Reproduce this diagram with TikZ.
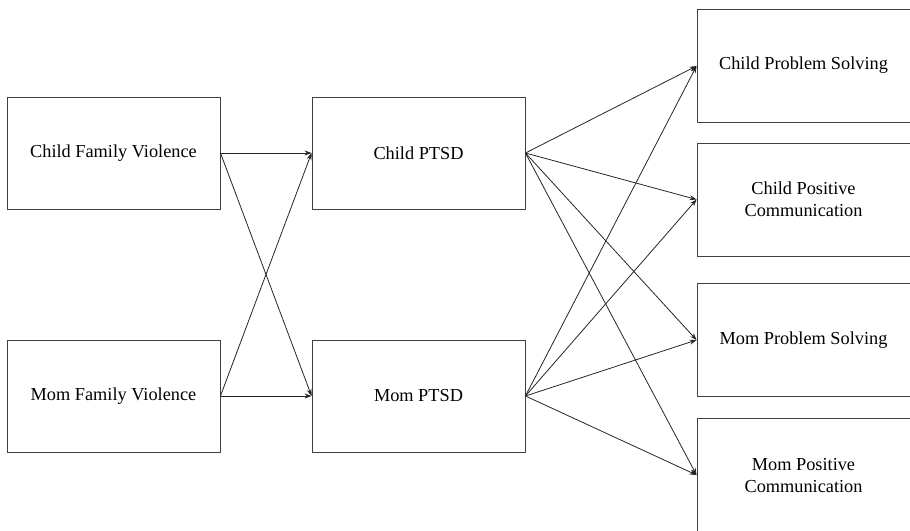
\documentclass[tikz,border=0pt]{standalone}
\usepackage{fontspec}
\setmainfont{Liberation Serif}
\usetikzlibrary{arrows.meta}
\begin{document}
\begin{tikzpicture}[x=1pt,y=-1pt,
  txt/.style={align=center,inner sep=0pt,font=\fontsize{18.3}{22}\selectfont},
  box/.style={txt,draw=black!75,line width=0.9pt,minimum width=213pt,minimum height=112pt},
  rbox/.style={draw=black!75,line width=0.9pt,minimum width=226pt,minimum height=113pt,inner sep=0pt},
  link/.style={draw=black!85,line width=0.8pt,-{Stealth[length=7pt,width=5pt]}}]
\useasboundingbox (0,0) rectangle (910,530);
\clip (0,0) rectangle (910,530);
\node[box] (cfv) at (113.5,153) {Child Family Violence};
\node[box] (mfv) at (113.5,396) {Mom Family Violence};
\node[box] (cpt) at (418.5,153) {Child PTSD};
\node[box] (mpt) at (418.5,396) {Mom PTSD};
\node[rbox] (cps) at (810,66) {};
\node[txt] (cpsl) at (803.5,65) {Child Problem Solving};
\node[rbox] (cpc) at (810,199.5) {};
\node[txt] (cpcl) at (803.5,199.5) {Child Positive\\Communication};
\node[rbox] (mps) at (810,340) {};
\node[txt] (mpsl) at (803.5,340) {Mom Problem Solving};
\node[rbox,minimum height=114pt] (mpc) at (810,475) {};
\node[txt] (mpcl) at (803.5,476) {Mom Positive\\Communication};
\draw[link] (cfv.east) -- (cpt.west);
\draw[link] (cfv.east) -- (mpt.west);
\draw[link] (mfv.east) -- (cpt.west);
\draw[link] (mfv.east) -- (mpt.west);
\foreach \s in {cpt,mpt}{
  \foreach \t in {cps,cpc,mps,mpc}{
    \draw[link] (\s.east) -- (\t.west);
  }
}
\end{tikzpicture}
\end{document}
